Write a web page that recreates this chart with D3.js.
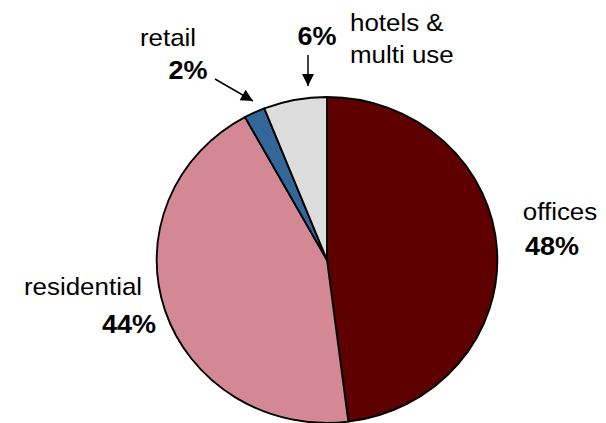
<!DOCTYPE html>
<html>
<head>
<meta charset="utf-8">
<script src="https://cdn.jsdelivr.net/npm/d3@7"></script>
<style>
    body { margin: 0; background: #fff; }
    text { font-family: "Liberation Sans", Arial, sans-serif; fill: #000; }
</style>
</head>
<body>
<div id="chart"></div>
<script>
// Data
const categories = ['offices', 'residential', 'retail', 'hotels'];
const values = [48, 44, 2, 6];
const colors = ['#5e0000', '#d48893', '#336699', '#dddddd'];

// label text, one entry per category (name lines + percent)
const nameLines = [['offices'], ['residential'], ['retail'], ['hotels &', 'multi use']];

// Dimensions
let dimensions = {
    width: 606,
    height: 423,
    cx: 327,
    cy: 260,
    radius: 163,
    stretch: 1.045,
};

// label layout (positions only)
const labelLayout = [
    { name: [560, 220], pct: [552, 255], anchor: 'middle' },
    { name: [83, 295], pct: [129, 333], anchor: 'middle' },
    { name: [168, 46], pct: [188, 79], anchor: 'middle' },
    { name: [350, 31], pct: [317, 45], anchor: 'start', lineGap: 32 },
];
const arrows = [
    { from: [215, 79], to: [253, 101] },
    { from: [308, 55], to: [308, 86] },
];

const svg = d3.select('#chart')
    .append('svg')
    .attr('width', dimensions.width)
    .attr('height', dimensions.height);

svg.append('defs').append('marker')
    .attr('id', 'head')
    .attr('viewBox', '0 0 10 10')
    .attr('refX', 10)
    .attr('refY', 5)
    .attr('markerWidth', 9)
    .attr('markerHeight', 8)
    .attr('markerUnits', 'strokeWidth')
    .attr('orient', 'auto')
    .append('path')
    .attr('d', 'M0,0 L10,5 L0,10 Z')
    .attr('fill', '#000');

const pie = d3.pie().sort(null).value(d => d);
const arc = d3.arc().innerRadius(0).outerRadius(dimensions.radius);

const container = svg.append('g')
    .attr('transform', `translate(${dimensions.cx}, ${dimensions.cy}) scale(${dimensions.stretch}, 1)`);

container.selectAll('path')
    .data(pie(values))
    .join('path')
    .attr('d', arc)
    .attr('fill', (d, i) => colors[i])
    .attr('stroke', '#000')
    .attr('stroke-width', 1.8)
    .attr('stroke-linejoin', 'round');

// Labels
const total = d3.sum(values);
const labels = svg.append('g');

categories.forEach((c, i) => {
    const lay = labelLayout[i];
    nameLines[i].forEach((line, j) => {
        labels.append('text')
            .attr('transform', `translate(${lay.name[0]}, ${lay.name[1] + j * (lay.lineGap || 0)}) scale(1.08, 1)`)
            .attr('text-anchor', lay.anchor)
            .style('font-size', '24px')
            .text(line);
    });
    labels.append('text')
        .attr('transform', `translate(${lay.pct[0]}, ${lay.pct[1]}) scale(1.08, 1)`)
        .attr('text-anchor', 'middle')
        .style('font-size', '25px')
        .style('font-weight', 'bold')
        .text(`${Math.round(values[i] / total * 100)}%`);
});

svg.selectAll('.arrow')
    .data(arrows)
    .join('line')
    .attr('class', 'arrow')
    .attr('x1', d => d.from[0])
    .attr('y1', d => d.from[1])
    .attr('x2', d => d.to[0])
    .attr('y2', d => d.to[1])
    .attr('stroke', '#000')
    .attr('stroke-width', 1.5)
    .attr('marker-end', 'url(#head)');
</script>
</body>
</html>
